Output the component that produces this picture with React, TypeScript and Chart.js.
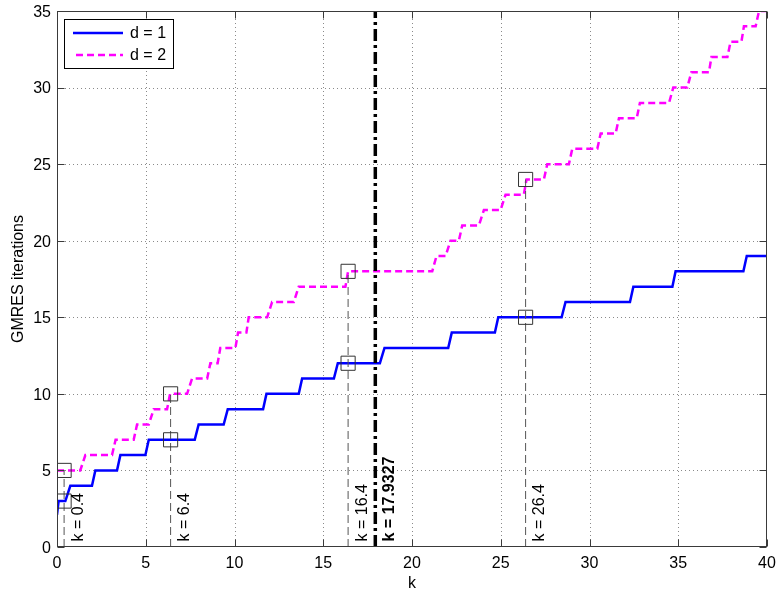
import React, { useEffect, useRef } from 'react';
import { Chart, registerables } from 'chart.js';
Chart.register(...registerables);

// ---- data ----
const d1K = [0, 0.09, 0.47, 0.75, 1.97, 2.16, 3.38, 3.57, 4.98, 5.17, 7.76, 7.98, 9.39, 9.62, 11.61, 11.8, 13.62, 13.81, 15.6, 15.82, 18.19, 18.45, 22.04, 22.24, 24.67, 24.86, 28.43, 28.65, 32.28, 32.47, 34.67, 34.85, 38.67, 38.86, 40];
const d1Iter = [2.1, 3, 3, 4, 4, 5, 5, 6, 6, 7, 7, 8, 8, 9, 9, 10, 10, 11, 11, 12, 12, 13, 13, 14, 14, 15, 15, 16, 16, 17, 17, 18, 18, 19, 19];

const d2K = [0, 1.31, 1.6, 3.1, 3.3, 4.32, 4.51, 5.17, 5.45, 6.2, 6.37, 7.33, 7.61, 8.46, 8.64, 9.05, 9.2, 10.05, 10.2, 10.67, 10.8, 11.84, 12.12, 13.34, 13.62, 16.25, 16.4, 21.14, 21.38, 21.89, 22.17, 22.64, 22.83, 23.77, 24.05, 24.99, 25.27, 26.3, 26.45, 27.43, 27.62, 28.84, 29.03, 30.44, 30.63, 31.47, 31.66, 32.66, 32.84, 34.48, 34.72, 35.51, 35.74, 36.73, 36.87, 37.77, 37.95, 38.56, 38.7, 39.36, 39.55, 40];
const d2Iter = [5, 5, 6, 6, 7, 7, 8, 8, 9, 9, 10, 10, 11, 11, 12, 12, 13, 13, 14, 14, 15, 15, 16, 16, 17, 17, 18, 18, 19, 19, 20, 20, 21, 21, 22, 22, 23, 23, 24, 24, 25, 25, 26, 26, 27, 27, 28, 28, 29, 29, 30, 30, 31, 31, 32, 32, 33, 33, 34, 34, 35, 35];

const markerK = [0.4, 6.4, 16.4, 26.4];
const markerD1 = [3, 7, 12, 15];
const markerD2 = [5, 10, 18, 24];
const criticalK = 17.9327;

const xTicks = [0, 5, 10, 15, 20, 25, 30, 35, 40];
const yTicks = [0, 5, 10, 15, 20, 25, 30, 35];
const legendLabels = ['d = 1', 'd = 2'];
const xTitle = 'k';
const yTitle = 'GMRES iterations';

const BLUE = '#0000ff';
const MAGENTA = '#ff00ff';
const FONT = '"Liberation Sans", Arial, sans-serif';

const overlay = {
  id: 'overlay',
  beforeDatasetsDraw(chart: any) {
    const { ctx, chartArea: a, scales } = chart;
    const x = scales.x, y = scales.y;
    ctx.save();
    ctx.strokeStyle = '#8a8a8a';
    ctx.lineWidth = 1;
    ctx.setLineDash([1, 3]);
    xTicks.forEach((t) => {
      if (t <= 0 || t >= 40) return;
      const px = Math.round(x.getPixelForValue(t)) + 0.5;
      ctx.beginPath(); ctx.moveTo(px, a.top); ctx.lineTo(px, a.bottom); ctx.stroke();
    });
    yTicks.forEach((t) => {
      if (t <= 0 || t >= 35) return;
      const py = Math.round(y.getPixelForValue(t)) + 0.5;
      ctx.beginPath(); ctx.moveTo(a.left, py); ctx.lineTo(a.right, py); ctx.stroke();
    });
    ctx.restore();
  },
  afterDatasetsDraw(chart: any) {
    const { ctx, chartArea: a, scales } = chart;
    const x = scales.x, y = scales.y;
    ctx.save();
    // frame
    ctx.setLineDash([]);
    ctx.strokeStyle = '#3a3a3a';
    ctx.lineWidth = 1;
    const L = Math.round(a.left) + 0.5, R = Math.round(a.right) - 0.5;
    const T = Math.round(a.top) + 0.5, B = Math.round(a.bottom) - 0.5;
    ctx.strokeRect(L, T, R - L, B - T);
    // tick marks inside
    const tl = 7;
    xTicks.forEach((t) => {
      const px = Math.round(x.getPixelForValue(t)) + 0.5;
      ctx.beginPath();
      ctx.moveTo(px, B); ctx.lineTo(px, B - tl);
      ctx.moveTo(px, T); ctx.lineTo(px, T + tl);
      ctx.stroke();
    });
    yTicks.forEach((t) => {
      const py = Math.round(y.getPixelForValue(t)) + 0.5;
      ctx.beginPath();
      ctx.moveTo(L, py); ctx.lineTo(L + tl, py);
      ctx.moveTo(R, py); ctx.lineTo(R - tl, py);
      ctx.stroke();
    });

    // tick labels
    ctx.fillStyle = '#000';
    ctx.font = '16px ' + FONT;
    ctx.textBaseline = 'alphabetic';
    ctx.textAlign = 'center';
    xTicks.forEach((t) => {
      ctx.fillText(String(t), x.getPixelForValue(t), a.bottom + 21);
    });
    ctx.textAlign = 'right';
    yTicks.forEach((t) => {
      ctx.fillText(String(t), a.left - 6, y.getPixelForValue(t) + 5.8);
    });

    // rotated k labels
    ctx.textAlign = 'left';
    ctx.textBaseline = 'alphabetic';
    const drawRot = (k: number, text: string, bold: boolean) => {
      const px = x.getPixelForValue(k);
      ctx.save();
      ctx.font = (bold ? 'bold ' : '') + '16px ' + FONT;
      ctx.translate(px + 18.5, a.bottom - 5.5);
      ctx.rotate(-Math.PI / 2);
      ctx.fillText(text, 0, 0);
      ctx.restore();
    };
    markerK.forEach((k) => drawRot(k, 'k = ' + k, false));
    drawRot(criticalK, 'k = ' + criticalK, true);

    // axis titles
    ctx.font = '16px ' + FONT;
    ctx.textAlign = 'center';
    ctx.textBaseline = 'alphabetic';
    ctx.fillText(xTitle, (a.left + a.right) / 2, 588);
    ctx.save();
    ctx.translate(23, (a.top + a.bottom) / 2);
    ctx.rotate(-Math.PI / 2);
    ctx.fillText(yTitle, 0, 0);
    ctx.restore();

    // legend
    const lx = 64.5, ly = 19.5, lw = 109, lh = 49;
    ctx.fillStyle = '#fff';
    ctx.fillRect(lx, ly, lw, lh);
    ctx.strokeStyle = '#000';
    ctx.lineWidth = 1;
    ctx.strokeRect(lx, ly, lw, lh);
    ctx.lineWidth = 2.5;
    ctx.strokeStyle = BLUE;
    ctx.beginPath(); ctx.moveTo(73, 33); ctx.lineTo(123, 33); ctx.stroke();
    ctx.strokeStyle = MAGENTA;
    ctx.setLineDash([7, 4]);
    ctx.beginPath(); ctx.moveTo(76, 55); ctx.lineTo(123, 55); ctx.stroke();
    ctx.setLineDash([]);
    ctx.fillStyle = '#000';
    ctx.font = '16px ' + FONT;
    ctx.textAlign = 'left';
    ctx.textBaseline = 'middle';
    ctx.fillText(legendLabels[0], 130, 34);
    ctx.fillText(legendLabels[1], 130, 56);
    ctx.restore();
  },
};

export default function App() {
  const ref = useRef<HTMLCanvasElement | null>(null);
  useEffect(() => {
    document.body.style.margin = '0';
    if (!ref.current) return;
    const refLines = markerK.map((k, i) => ({
      data: [{ x: k, y: 0 }, { x: k, y: markerD2[i] }],
      showLine: true,
      borderColor: '#555555',
      borderWidth: 1,
      borderDash: [8, 4],
      pointRadius: 0,
      fill: false,
    }));
    const chart = new Chart(ref.current, {
      type: 'scatter',
      data: {
        datasets: [
          {
            data: [{ x: criticalK, y: 0 }, { x: criticalK, y: 35 }],
            showLine: true,
            borderColor: '#000',
            borderWidth: 3.5,
            borderDash: [12, 4, 3, 4],
            pointRadius: 0,
          },
          {
            data: [
              ...markerK.map((k, i) => ({ x: k, y: markerD1[i] })),
              ...markerK.map((k, i) => ({ x: k, y: markerD2[i] })),
            ],
            showLine: false,
            pointStyle: 'rect',
            pointRadius: 10,
            borderColor: '#333333',
            borderWidth: 1,
            backgroundColor: 'rgba(0,0,0,0)',
          },
          ...refLines,
          {
            data: d2K.map((k, i) => ({ x: k, y: d2Iter[i] })),
            showLine: true,
            borderColor: MAGENTA,
            borderWidth: 2.5,
            borderDash: [7, 4],
            pointRadius: 0,
          },
          {
            data: d1K.map((k, i) => ({ x: k, y: d1Iter[i] })),
            showLine: true,
            borderColor: BLUE,
            borderWidth: 2.5,
            pointRadius: 0,
          },
        ] as any,
      },
      options: {
        animation: false,
        responsive: false,
        events: [],
        layout: { padding: { top: 10, right: 12, left: 0, bottom: 0 } },
        plugins: { legend: { display: false }, tooltip: { enabled: false } },
        scales: {
          x: {
            type: 'linear',
            min: 0,
            max: 40,
            afterFit: (s: any) => { s.height = 45; s.paddingLeft = 0; s.paddingRight = 0; },
            ticks: { display: false },
            grid: { display: false, drawTicks: false },
            border: { display: false },
          },
          y: {
            type: 'linear',
            min: 0,
            max: 35,
            afterFit: (s: any) => { s.width = 57; s.paddingTop = 0; s.paddingBottom = 0; },
            ticks: { display: false },
            grid: { display: false, drawTicks: false },
            border: { display: false },
          },
        },
      } as any,
      plugins: [overlay],
    });
    return () => chart.destroy();
  }, []);
  return (
    <div style={{ position: 'absolute', left: 0, top: 0, width: 779, height: 592 }}>
      <canvas ref={ref} width={779} height={592} style={{ display: 'block' }} />
    </div>
  );
}
